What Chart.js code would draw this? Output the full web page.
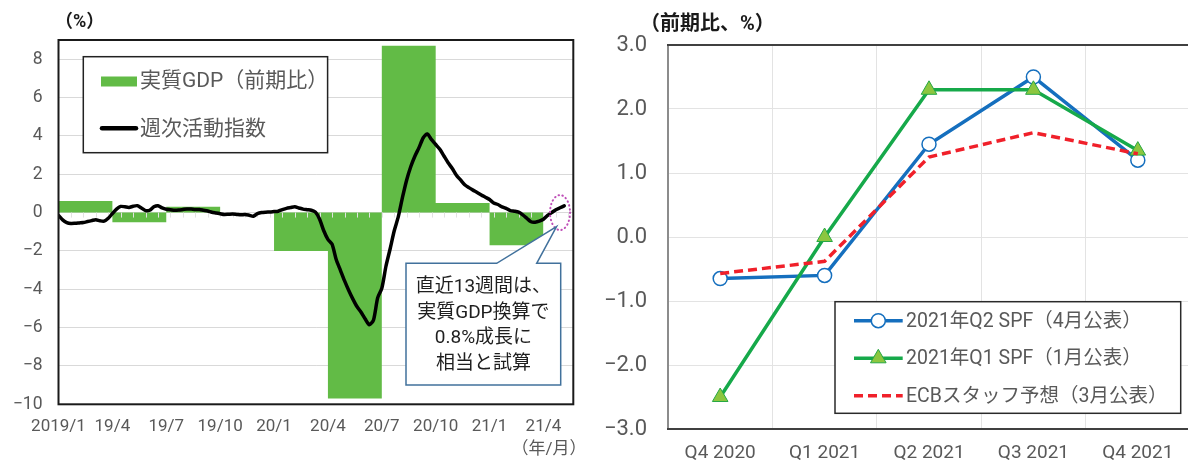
<!DOCTYPE html>
<html lang="ja">
<head>
<meta charset="utf-8">
<script src="https://cdn.jsdelivr.net/npm/chart.js"></script>
<style>
  html, body { margin: 0; padding: 0; background: #fff; overflow: hidden; }
  #wrap { position: relative; width: 1188px; height: 465px; overflow: hidden; }
  #leftBox { position: absolute; left: 0; top: 0; width: 600px; height: 465px; }
  #rightBox { position: absolute; left: 600px; top: 0; width: 600px; height: 465px; }
</style>
</head>
<body>
<div id="wrap">
  <div id="leftBox"><canvas id="WeeklyGdp" width="600" height="465"></canvas></div>
  <div id="rightBox"><canvas id="SpfForecast" width="600" height="465"></canvas></div>
</div>
<script>
// ---- left chart data: quarterly real GDP and weekly activity index ----
const QUARTER_LABELS = ["2019/1", "19/4", "19/7", "19/10", "20/1", "20/4", "20/7", "20/10", "21/1", "21/4"];
const GDP_QOQ = [0.6, -0.5, 0.3, 0.0, -2.0, -9.7, 8.7, 0.5, -1.7];
const WEEKLY_INDEX = [
  -0.15, -0.38, -0.52, -0.57, -0.56, -0.54, -0.52, -0.47, -0.42, -0.37,
  -0.43, -0.45, -0.3, -0.05, 0.18, 0.32, 0.3, 0.27, 0.33, 0.36,
  0.24, 0.1, 0.12, 0.3, 0.36, 0.24, 0.17, 0.15, 0.12, 0.13,
  0.16, 0.19, 0.18, 0.16, 0.16, 0.12, 0.08, 0.02, -0.02, -0.06,
  -0.1, -0.09, -0.08, -0.1, -0.12, -0.1, -0.14, -0.19, -0.06, 0.0,
  0.02, 0.03, 0.05, 0.07, 0.15, 0.22, 0.26, 0.3, 0.24, 0.18,
  0.15, 0.12, 0.02, -0.35, -0.95, -1.4, -1.65, -2.45, -3.0, -3.55,
  -4.05, -4.5, -4.9, -5.2, -5.55, -5.85, -5.6, -4.45, -3.95, -2.8,
  -1.9, -0.95, -0.2, 0.8, 1.7, 2.4, 2.95, 3.4, 3.9, 4.1,
  3.8, 3.55, 3.3, 2.95, 2.6, 2.3, 1.95, 1.7, 1.45, 1.3,
  1.17, 1.05, 0.92, 0.8, 0.68, 0.5, 0.42, 0.3, 0.22, 0.1,
  0.07, 0.02, -0.12, -0.3, -0.48, -0.5, -0.45, -0.35, -0.15, 0.0,
  0.15, 0.25, 0.35
];
const LEFT_Y_TICKS = [-10, -8, -6, -4, -2, 0, 2, 4, 6, 8];
const CALLOUT_LINES = ["直近13週間は、", "実質GDP換算で", "0.8%成長に", "相当と試算"];

// ---- right chart data: euro area forecasts ----
const FORECAST_QUARTERS = ["Q4 2020", "Q1 2021", "Q2 2021", "Q3 2021", "Q4 2021"];
const SPF_Q2 = [-0.65, -0.6, 1.45, 2.5, 1.2];
const SPF_Q1 = [-2.5, 0.0, 2.3, 2.3, 1.35];
const ECB_STAFF = [-0.57, -0.38, 1.25, 1.63, 1.3];

const WEEKS_PER_QUARTER = 13;
const GREEN_BAR = "#62bb46";
const BLUE = "#156fbe";
const GREEN = "#16a94a";
const RED = "#f0202a";

Chart.defaults.font.family = "Roboto, 'Noto Sans CJK JP', sans-serif";
Chart.defaults.color = "#595959";
Chart.defaults.animation = false;

function signed(v, digits) {
  const s = Math.abs(v).toFixed(digits);
  return v < 0 ? "\u2212" + s : s;
}

// quarterly bars drawn as a stepped, filled line (value holds for the quarter)
const gdpSteps = GDP_QOQ.map((v, i) => ({ x: i * WEEKS_PER_QUARTER, y: v }));
gdpSteps.push({ x: GDP_QOQ.length * WEEKS_PER_QUARTER, y: GDP_QOQ[GDP_QOQ.length - 1] });

const leftDecor = {
  id: "leftDecor",
  afterDatasetDraw(chart, args) {
    if (args.index !== 1) return;
    const { ctx, scales: { x, y } } = chart;
    const y0 = y.getPixelForValue(0);
    ctx.save();
    ctx.strokeStyle = "#e2e2e2";
    ctx.lineWidth = 1;
    for (let w = 3; w < x.max; w += 3) {
      const px = Math.round(x.getPixelForValue(w)) + 0.5;
      ctx.beginPath();
      ctx.moveTo(px, y0);
      ctx.lineTo(px, y0 + 5);
      ctx.stroke();
    }
    ctx.restore();
  },
  afterDraw(chart) {
    const { ctx, chartArea: a, scales: { x, y } } = chart;
    ctx.save();
    // plot frame
    ctx.strokeStyle = "#1a1a1a";
    ctx.lineWidth = 2;
    ctx.strokeRect(a.left, a.top, a.right - a.left, a.bottom - a.top);

    // legend
    ctx.fillStyle = "#fff";
    ctx.fillRect(83.3, 56.7, 244.3, 96);
    ctx.strokeStyle = "#222";
    ctx.lineWidth = 1.5;
    ctx.strokeRect(83.3, 56.7, 244.3, 96);
    ctx.fillStyle = GREEN_BAR;
    ctx.fillRect(101, 76.5, 36, 10);
    ctx.strokeStyle = "#000";
    ctx.lineWidth = 4.5;
    ctx.lineCap = "round";
    ctx.beginPath();
    ctx.moveTo(102, 128.3);
    ctx.lineTo(136, 128.3);
    ctx.stroke();
    ctx.fillStyle = "#595959";
    ctx.font = "21px Roboto, 'Noto Sans CJK JP'";
    ctx.textBaseline = "middle";
    ctx.textAlign = "left";
    ctx.fillText("実質GDP（前期比）", 140, 82);
    ctx.fillText("週次活動指数", 140, 130);

    // dotted ellipse around the latest weeks
    const ex = x.getPixelForValue(121);
    const ey = y.getPixelForValue(0);
    ctx.strokeStyle = "#bf4fb8";
    ctx.lineWidth = 2;
    ctx.lineCap = "round";
    ctx.setLineDash([0.5, 3.5]);
    ctx.beginPath();
    ctx.ellipse(ex, ey, 10, 17.5, 0, 0, Math.PI * 2);
    ctx.stroke();
    ctx.setLineDash([]);

    // callout box with pointer
    const bx0 = 406, bx1 = 560.7, by0 = 263.3, by1 = 385;
    ctx.beginPath();
    ctx.moveTo(bx0, by0);
    ctx.lineTo(496.7, by0);
    ctx.lineTo(ex - 3.5, ey + 14);
    ctx.lineTo(536.7, by0);
    ctx.lineTo(bx1, by0);
    ctx.lineTo(bx1, by1);
    ctx.lineTo(bx0, by1);
    ctx.closePath();
    ctx.fillStyle = "#fff";
    ctx.fill();
    ctx.strokeStyle = "#41719c";
    ctx.lineWidth = 1.5;
    ctx.lineJoin = "miter";
    ctx.stroke();
    ctx.fillStyle = "#1f1f1f";
    ctx.font = "19px Roboto, 'Noto Sans CJK JP'";
    ctx.textAlign = "center";
    CALLOUT_LINES.forEach((t, i) => ctx.fillText(t, 483.4, 287 + i * 25.8));

    // unit labels
    ctx.textAlign = "left";
    ctx.fillStyle = "#1a1a1a";
    ctx.font = "bold 18px Roboto, 'Noto Sans CJK JP'";
    ctx.fillText("（%）", 55, 22);
    ctx.fillStyle = "#595959";
    ctx.font = "17px Roboto, 'Noto Sans CJK JP'";
    ctx.fillText("（年/月）", 511.5, 450);
    ctx.restore();
  }
};

const CHART_WEEKLY = document.getElementById("WeeklyGdp");
if (CHART_WEEKLY != null) {
  let chart_weekly = new Chart(CHART_WEEKLY, {
    type: "line",
    data: {
      datasets: [
        {
          label: "週次活動指数",
          data: WEEKLY_INDEX.map((v, i) => ({ x: i, y: v })),
          borderColor: "#000",
          borderWidth: 3.5,
          borderCapStyle: "round",
          borderJoinStyle: "round",
          pointRadius: 0,
          tension: 0.25,
          fill: false,
        },
        {
          label: "実質GDP（前期比）",
          data: gdpSteps,
          stepped: true,
          borderWidth: 0,
          borderColor: "rgba(0,0,0,0)",
          backgroundColor: GREEN_BAR,
          pointRadius: 0,
          fill: "origin",
        },
      ],
    },
    options: {
      responsive: false,
      animation: false,
      layout: { padding: { top: 40, right: 26.7, left: 0, bottom: 0 } },
      plugins: { legend: { display: false }, tooltip: { enabled: false } },
      scales: {
        x: {
          type: "linear",
          min: 0,
          max: 124.2,
          grid: { display: false, drawTicks: false },
          border: { display: false },
          afterBuildTicks: (s) => {
            s.ticks = QUARTER_LABELS.map((_, i) => ({ value: i * WEEKS_PER_QUARTER }));
          },
          ticks: {
            autoSkip: false,
            maxRotation: 0,
            padding: 12,
            font: { size: 17 },
            callback: (v, i) => QUARTER_LABELS[i],
          },
          afterFit: (s) => { s.height = 60.7; },
        },
        y: {
          min: -10,
          max: 9,
          afterBuildTicks: (s) => {
            s.ticks = LEFT_Y_TICKS.map((v) => ({ value: v }));
          },
          grid: { color: "#d9d9d9", lineWidth: 1, drawTicks: false },
          border: { display: false },
          ticks: { padding: 16, font: { size: 17.5 }, callback: (v) => signed(v, 0) },
          afterFit: (s) => { s.width = 58.5; },
        },
      },
    },
    plugins: [leftDecor],
  });
}

const rightDecor = {
  id: "rightDecor",
  afterDraw(chart) {
    const { ctx, chartArea: a } = chart;
    const ds = chart.data.datasets;
    ctx.save();
    ctx.lineWidth = 2;
    ctx.strokeStyle = "#8c8c8c";
    ctx.beginPath();
    ctx.moveTo(a.left, a.top);
    ctx.lineTo(a.left, a.bottom);
    ctx.stroke();
    ctx.strokeStyle = "#404040";
    ctx.beginPath();
    ctx.moveTo(a.left - 1, a.top);
    ctx.lineTo(a.right + 5, a.top);
    ctx.moveTo(a.left - 1, a.bottom);
    ctx.lineTo(a.right + 5, a.bottom);
    ctx.stroke();

    // legend box
    ctx.fillStyle = "#fff";
    ctx.fillRect(235, 301.7, 345.7, 111.6);
    ctx.strokeStyle = "#2a2a2a";
    ctx.lineWidth = 1.5;
    ctx.strokeRect(235, 301.7, 345.7, 111.6);
    const rows = [320.7, 358.3, 395.7];
    ctx.font = "19.5px Roboto, 'Noto Sans CJK JP'";
    ctx.textBaseline = "middle";
    ctx.textAlign = "left";
    ds.forEach((d, i) => {
      const yy = rows[i];
      ctx.strokeStyle = d.borderColor;
      ctx.lineWidth = 3.5;
      ctx.setLineDash(d.borderDash || []);
      ctx.beginPath();
      ctx.moveTo(254, yy);
      ctx.lineTo(302.7, yy);
      ctx.stroke();
      ctx.setLineDash([]);
      if (d.pointStyle === "circle") {
        ctx.beginPath();
        ctx.arc(278.3, yy, 7, 0, Math.PI * 2);
        ctx.fillStyle = d.pointBackgroundColor;
        ctx.fill();
        ctx.lineWidth = d.pointBorderWidth;
        ctx.strokeStyle = d.pointBorderColor;
        ctx.stroke();
      } else if (d.pointStyle === "triangle") {
        const r = d.pointRadius;
        ctx.beginPath();
        ctx.moveTo(278.3, yy - r);
        ctx.lineTo(278.3 + r * 0.866, yy + r * 0.5);
        ctx.lineTo(278.3 - r * 0.866, yy + r * 0.5);
        ctx.closePath();
        ctx.fillStyle = d.pointBackgroundColor;
        ctx.fill();
        ctx.lineWidth = d.pointBorderWidth;
        ctx.strokeStyle = d.pointBorderColor;
        ctx.stroke();
      }
      ctx.fillStyle = "#595959";
      ctx.fillText(d.label, 306, yy + 1);
    });

    ctx.fillStyle = "#1a1a1a";
    ctx.font = "bold 20px Roboto, 'Noto Sans CJK JP'";
    ctx.fillText("（前期比、%）", 40, 25);
    ctx.restore();
  }
};

const CHART_SPF = document.getElementById("SpfForecast");
if (CHART_SPF != null) {
  let chart_spf = new Chart(CHART_SPF, {
    type: "line",
    data: {
      labels: FORECAST_QUARTERS,
      datasets: [
        {
          label: "2021年Q2 SPF（4月公表）",
          data: SPF_Q2,
          borderColor: BLUE,
          borderWidth: 3.5,
          pointStyle: "circle",
          pointRadius: 7,
          pointBackgroundColor: "#fff",
          pointBorderColor: BLUE,
          pointBorderWidth: 1.5,
          order: 3,
        },
        {
          label: "2021年Q1 SPF（1月公表）",
          data: SPF_Q1,
          borderColor: GREEN,
          borderWidth: 3.5,
          pointStyle: "triangle",
          pointRadius: 9,
          pointBackgroundColor: "#8cc63f",
          pointBorderColor: "#27a844",
          pointBorderWidth: 1,
          order: 2,
        },
        {
          label: "ECBスタッフ予想（3月公表）",
          data: ECB_STAFF,
          borderColor: RED,
          borderWidth: 3.5,
          borderDash: [9, 5],
          pointRadius: 0,
          order: 1,
        },
      ],
    },
    options: {
      responsive: false,
      animation: false,
      layout: { padding: { top: 45, right: 8.3, left: 0, bottom: 0 } },
      plugins: { legend: { display: false }, tooltip: { enabled: false } },
      scales: {
        x: {
          offset: true,
          grid: { offset: true, color: "#e3e3e3", drawTicks: false },
          border: { display: false },
          ticks: { padding: 13, font: { size: 19 } },
          afterFit: (s) => { s.height = 36; },
        },
        y: {
          min: -3,
          max: 3,
          grid: { color: "#e3e3e3", drawTicks: false },
          border: { display: false },
          ticks: { stepSize: 1, padding: 21, font: { size: 22 }, callback: (v) => signed(v, 1) },
          afterFit: (s) => { s.width = 68; },
        },
      },
    },
    plugins: [rightDecor],
  });
}
</script>
</body>
</html>
